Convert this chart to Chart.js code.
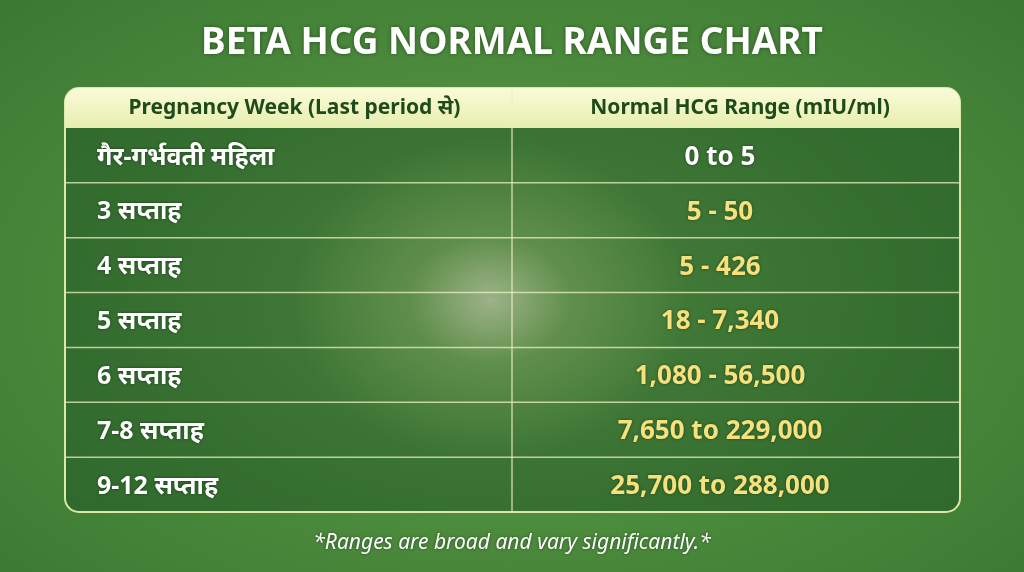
<!DOCTYPE html>
<html><head><meta charset="utf-8">
<script src="https://cdn.jsdelivr.net/npm/chart.js@4/dist/chart.umd.min.js"></script>
<style>
html,body{margin:0;padding:0;width:1024px;height:572px;overflow:hidden;
background:radial-gradient(ellipse 200px 160px at 490px 300px,rgba(255,255,215,0.95),rgba(200,230,140,0.45) 40%,rgba(0,0,0,0) 100%),
radial-gradient(ellipse 700px 420px at 512px 300px,#6ea652 0%,#4c8a3c 55%,#3b7a33 100%);}
#c{position:absolute;left:0;top:0}
</style></head><body>
<canvas id="c" width="1024" height="572"></canvas>
<script>
const title = "BETA HCG NORMAL RANGE CHART";
const headers = ["Pregnancy Week (Last period से)", "Normal HCG Range (mIU/ml)"];
const weeks = ["गैर-गर्भवती महिला","3 सप्ताह","4 सप्ताह","5 सप्ताह","6 सप्ताह","7-8 सप्ताह","9-12 सप्ताह"];
const ranges = ["0 to 5","5 - 50","5 - 426","18 - 7,340","1,080 - 56,500","7,650 to 229,000","25,700 to 288,000"];
const footnote = "*Ranges are broad and vary significantly.*";
const F = '"Noto Sans","Noto Sans Devanagari","Open Sans",sans-serif';

function rr(ctx,x,y,w,h,r){ctx.beginPath();ctx.moveTo(x+r,y);ctx.arcTo(x+w,y,x+w,y+h,r);ctx.arcTo(x+w,y+h,x,y+h,r);ctx.arcTo(x,y+h,x,y,r);ctx.arcTo(x,y,x+w,y,r);ctx.closePath();}

const tablePlugin = {
  id:'table',
  afterDraw(chart){
    const ctx=chart.ctx, ys=chart.scales.y, a=chart.chartArea;
    const L=a.left, R=a.right, T=a.top, B=a.bottom, mid=512, hTop=88;
    ctx.save();
    ctx.fillStyle='#fff';ctx.font='bold 37px '+F;ctx.textAlign='center';ctx.textBaseline='middle';
    ctx.shadowColor='rgba(0,0,0,0.4)';ctx.shadowBlur=4;
    ctx.fillText(title,512,43);ctx.shadowBlur=0;
    rr(ctx,L,hTop,R-L,B-hTop,14);
    ctx.fillStyle='rgba(20,70,30,0.4)';ctx.fill();
    ctx.lineWidth=2;ctx.strokeStyle='rgba(235,245,180,0.9)';ctx.stroke();
    ctx.save();rr(ctx,L,hTop,R-L,B-hTop,14);ctx.clip();
    const g=ctx.createLinearGradient(0,hTop,0,T);g.addColorStop(0,'#fbfbd8');g.addColorStop(1,'#e6eeb0');
    ctx.fillStyle=g;ctx.fillRect(L,hTop,R-L,T-hTop);ctx.restore();
    ctx.fillStyle='#1f4a1a';ctx.font='bold 21px '+F;
    ctx.fillText(headers[0],(L+mid)/2+6,(hTop+T)/2);
    ctx.fillText(headers[1],(mid+R)/2+4,(hTop+T)/2);
    ctx.strokeStyle='rgba(235,240,190,0.75)';ctx.lineWidth=1.5;
    ctx.beginPath();ctx.moveTo(mid,hTop);ctx.lineTo(mid,B);ctx.stroke();
    const step=(B-T)/weeks.length;
    for(let i=0;i<weeks.length-1;i++){const y=ys.getPixelForValue(i)+step/2;ctx.beginPath();ctx.moveTo(L,y);ctx.lineTo(R,y);ctx.stroke();}
    ctx.shadowColor='rgba(0,0,0,0.45)';ctx.shadowBlur=3;
    weeks.forEach((w,i)=>{
      const y=ys.getPixelForValue(i)+2;
      ctx.textAlign='left';ctx.fillStyle='#fff';ctx.font='bold 25px '+F;ctx.fillText(w,L+32,y);
      ctx.textAlign='center';ctx.fillStyle=i===0?'#fff':'#f6e27c';ctx.font='bold 26px '+F;
      ctx.fillText(ranges[i],(mid+R)/2-16,y);
    });
    ctx.fillStyle='#fff';ctx.font='italic 21px '+F;ctx.textAlign='center';
    ctx.fillText(footnote,512,543);
    ctx.restore();
  }
};

new Chart(document.getElementById('c'),{
  type:'bar',
  data:{labels:weeks,datasets:[{data:weeks.map(()=>null)}]},
  options:{
    indexAxis:'y',responsive:false,animation:false,
    layout:{padding:{left:65,right:64,top:128,bottom:60}},
    plugins:{legend:{display:false},tooltip:{enabled:false}},
    scales:{y:{display:false,offset:true},x:{display:false,min:0,max:1}}
  },
  plugins:[tablePlugin]
});
</script></body></html>
